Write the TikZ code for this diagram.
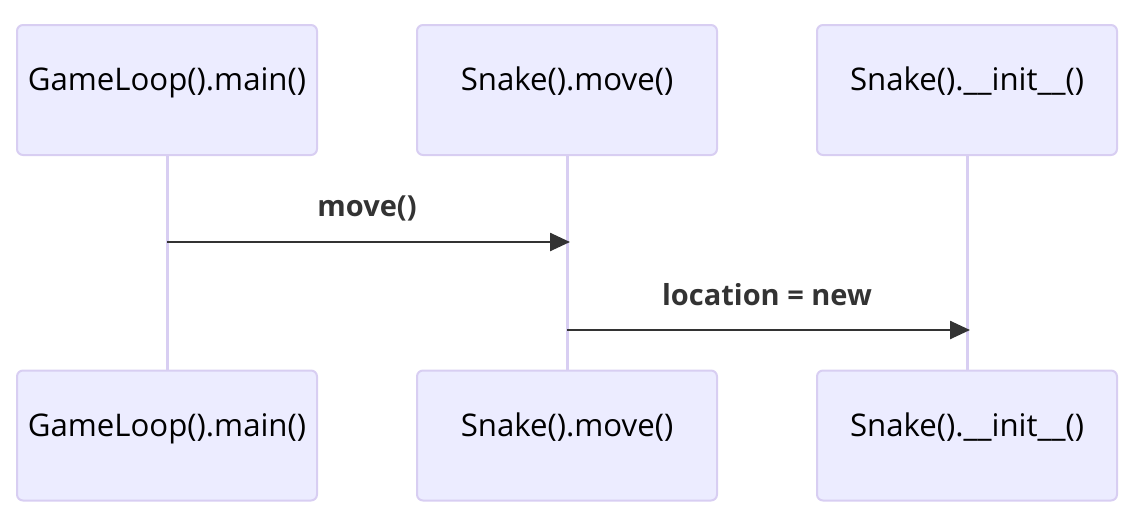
\documentclass[tikz,border=0pt]{standalone}
\usepackage{fontspec}
\setmainfont{Open Sans}
\usetikzlibrary{arrows.meta}
\definecolor{actfill}{HTML}{ECECFF}
\definecolor{actline}{HTML}{D8CEF2}
\definecolor{sig}{HTML}{333333}
\begin{document}
\begin{tikzpicture}[x=1pt,y=-1pt,
  actor/.style={draw=actline,fill=actfill,line width=2pt,rounded corners=6pt,minimum width=300pt,minimum height=130pt,inner sep=0pt},
  atext/.style={font=\fontsize{31.2}{34}\selectfont,text=black,anchor=base,inner sep=0pt},
  lifeline/.style={draw=actline,line width=3pt},
  msg/.style={draw=sig,line width=2.5pt,-{Triangle[length=20pt,width=18pt]}},
  mlabel/.style={font=\fontsize{29}{33}\selectfont\bfseries,text=sig,anchor=base,inner sep=0pt}]
\useasboundingbox (0,0) rectangle (1142,528);
\node[actor] (a1) at (167,90) {};
\node[actor] (b1) at (567,90) {};
\node[actor] (c1) at (967,90) {};
\node[actor] (a2) at (167,435.5) {};
\node[actor] (b2) at (567,435.5) {};
\node[actor] (c2) at (967,435.5) {};
\node[atext] (ta1) at (167,90) {GameLoop().main()};
\node[atext] (tb1) at (567,90) {Snake().move()};
\node[atext] (tc1) at (967,90) {Snake().\_\_init\_\_()};
\node[atext] (ta2) at (167,436) {GameLoop().main()};
\node[atext] (tb2) at (567,436) {Snake().move()};
\node[atext] (tc2) at (967,436) {Snake().\_\_init\_\_()};
\draw[lifeline] (a1.south) -- (a2.north);
\draw[lifeline] (b1.south) -- (b2.north);
\draw[lifeline] (c1.south) -- (c2.north);
\coordinate (m1s) at (167,242);
\coordinate (m1e) at (570,242);
\coordinate (m2s) at (567,330);
\coordinate (m2e) at (970,330);
\draw[msg] (m1s) -- (m1e);
\draw[msg] (m2s) -- (m2e);
\node[mlabel] (l1) at (367,216) {move()};
\node[mlabel] (l2) at (767,305) {location = new};
\end{tikzpicture}
\end{document}
